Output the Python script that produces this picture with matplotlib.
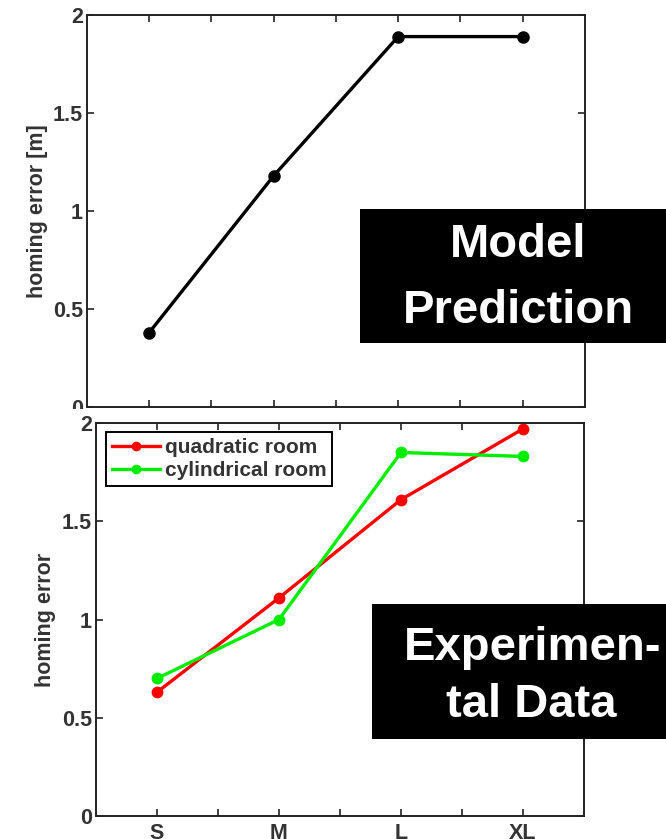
import matplotlib
matplotlib.use("Agg")
import matplotlib.pyplot as plt
from matplotlib.patches import Rectangle

plt.rcParams['font.family'] = ['Liberation Sans', 'DejaVu Sans']

# Room sizes on the x axis
sizes = ["S", "M", "L", "XL"]
size_pos = [1, 2, 3, 4]

# Model prediction of homing error [m]
model_error = [0.38, 1.18, 1.89, 1.89]

# Measured homing error per room shape
quadratic_error = [0.63, 1.11, 1.61, 1.97]
cylindrical_error = [0.70, 1.00, 1.85, 1.83]

TXT = "#333333"
SPINE = "#222222"

fig = plt.figure(figsize=(6.66, 8.39), dpi=100)
fig.patch.set_facecolor("white")


def style_axes(ax, ylabel, label_x):
    ax.set_xlim(0.5, 4.5)
    ax.set_ylim(0, 2)
    ax.set_xticks([1, 1.5, 2, 2.5, 3, 3.5, 4])
    ax.set_xticklabels(["S", "", "M", "", "L", "", "XL"])
    ax.set_yticks([0, 0.5, 1, 1.5, 2])
    ax.set_yticklabels(["0", "0.5", "1", "1.5", "2"])
    ax.tick_params(direction="in", length=5, width=1.2, color=SPINE,
                   top=True, right=True, labelsize=15.5, labelcolor=TXT)
    ax.tick_params(axis="y", pad=3)
    ax.tick_params(axis="x", pad=5)
    for lab in ax.get_xticklabels() + ax.get_yticklabels():
        lab.set_fontweight("bold")
    for sp in ax.spines.values():
        sp.set_color(SPINE)
        sp.set_linewidth(1.4)
    ax.set_ylabel(ylabel, fontsize=15.5, fontweight="bold", color=TXT)
    ax.yaxis.set_label_coords(label_x, 0.5)


# Upper panel: model prediction
ax1 = fig.add_axes([0.1306, 0.5149, 0.7477, 0.4672], zorder=1)
ax1.plot(size_pos, model_error, color="black", lw=2.4, marker="o",
         markersize=8, solid_joinstyle="round")
style_axes(ax1, "homing error [m]", -0.079)

# The lower panel sits over the bottom edge of the upper one
cover = Rectangle((0, 0), 1, 1 - 409 / 839, transform=fig.transFigure,
                  facecolor="white", edgecolor="none", zorder=2)
fig.patches.append(cover)

# Lower panel: experimental data
ax2 = fig.add_axes([0.1441, 0.0274, 0.7327, 0.4684], zorder=3)
ax2.plot(size_pos, quadratic_error, color="#ff0000", lw=2.4, marker="o",
         markersize=7.5, label="quadratic room")
ax2.plot(size_pos, cylindrical_error, color="#00ee00", lw=2.4, marker="o",
         markersize=7.5, label="cylindrical room")
style_axes(ax2, "homing error", -0.081)
leg = ax2.legend(loc="upper left", bbox_to_anchor=(0.0205, 0.977),
                 borderaxespad=0, fancybox=False, edgecolor="black",
                 framealpha=1, handlelength=2.3, handletextpad=0.25,
                 labelspacing=0.22, borderpad=0.28, markerscale=0.8,
                 prop={"size": 15, "weight": "bold"})
leg.get_frame().set_linewidth(1.4)
for t in leg.get_texts():
    t.set_color(TXT)

# Caption boxes
for (x0, y0, w, h) in [(0.5405, 0.5912, 0.4595, 0.1597),
                       (0.5586, 0.1192, 0.4414, 0.1609)]:
    fig.patches.append(Rectangle((x0, y0), w, h, transform=fig.transFigure,
                                 facecolor="black", edgecolor="none", zorder=4))

for (s, x, y) in [("Model", 0.778, 0.6937), ("Prediction", 0.779, 0.615),
                  ("Experimen-", 0.799, 0.2134), ("tal Data", 0.797, 0.1454)]:
    fig.text(x, y, s, color="white", fontsize=34, fontweight="bold",
             ha="center", va="baseline", zorder=5)

fig.savefig("out.png", dpi=100)
